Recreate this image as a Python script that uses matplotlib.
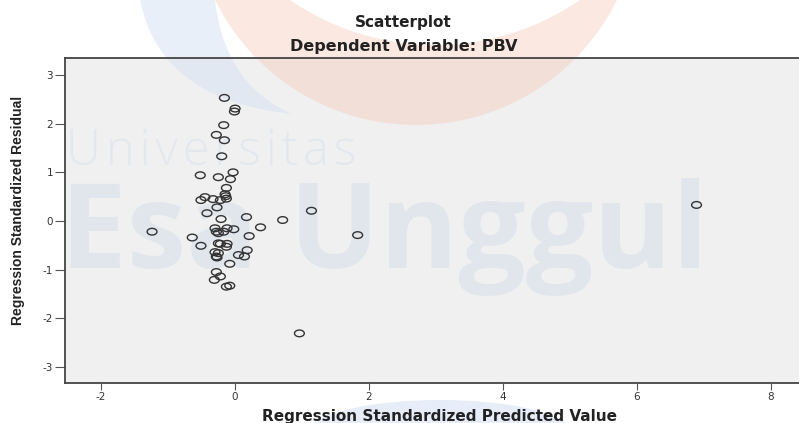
import matplotlib
matplotlib.use("Agg")
import matplotlib.pyplot as plt
from matplotlib import font_manager
from matplotlib.path import Path
from matplotlib.patches import Rectangle, Circle, Ellipse, PathPatch

plt.rcParams["axes.unicode_minus"] = False

# Datos
pred = [-0.17, -0.28, -0.16, -0.20, -0.52, -0.25, -0.03, -0.07, -0.13, -0.15,
        -0.14, -0.13, -0.45, -0.51, -0.33, -0.22, -0.27, -0.42, -0.21, 0.17,
        0.71, -1.24, -0.64, -0.51, -0.30, -0.12, -0.02, -0.25, -0.28, -0.17,
        0.38, 0.21, -0.25, -0.22, -0.12, -0.13, 0.18, 0.05, 0.14, -0.30,
        -0.25, -0.28, -0.27, -0.08, -0.28, -0.22, -0.31, -0.08, -0.13, -0.16,
        0.00, -0.01, 0.96, 1.14, 1.83, 6.89]
resid = [1.97, 1.77, 1.66, 1.33, 0.94, 0.90, 1.00, 0.86, 0.68, 0.55,
         0.51, 0.46, 0.49, 0.43, 0.45, 0.43, 0.28, 0.16, 0.04, 0.08,
         0.02, -0.22, -0.34, -0.51, -0.15, -0.15, -0.17, -0.25, -0.22, -0.22,
         -0.13, -0.31, -0.46, -0.47, -0.47, -0.53, -0.60, -0.70, -0.73, -0.64,
         -0.66, -0.73, -0.75, -0.88, -1.05, -1.14, -1.21, -1.33, -1.35, 2.53,
         2.31, 2.25, -2.31, 0.21, -0.29, 0.33]

x_ticks = [-2, 0, 2, 4, 6, 8]
y_ticks = [-3, -2, -1, 0, 1, 2, 3]

W, H = 799, 423
caja = (65, 58, 799, 383)   # izq, arriba, der, abajo (pixeles)

# fuente angosta para el titulo del eje y, si existe
fuente_y, size_y = "DejaVu Sans", 8.6
for nombre, tam in [("Liberation Sans Narrow", 11), ("Liberation Sans", 10)]:
    try:
        font_manager.findfont(font_manager.FontProperties(family=nombre),
                              fallback_to_default=False)
        fuente_y, size_y = nombre, tam
        break
    except Exception:
        pass

fig = plt.figure(figsize=(W / 100, H / 100), dpi=100)

# Fondo + marca de agua
bg = fig.add_axes([0, 0, 1, 1], zorder=0)
bg.set_xlim(0, W)
bg.set_ylim(H, 0)
bg.axis("off")
bg.add_patch(Rectangle((caja[0], caja[1]), caja[2] - caja[0], caja[3] - caja[1],
                       facecolor="#f0f0f0", edgecolor="none"))
swoosh = Path([(140, 0), (160, 100), (292, 114), (225, 85), (215, 0), (140, 0)],
              [Path.MOVETO, Path.CURVE3, Path.CURVE3, Path.CURVE3, Path.CURVE3, Path.CLOSEPOLY])
bg.add_patch(PathPatch(swoosh, facecolor="#d5e1f5", edgecolor="none", alpha=0.5))
bg.add_patch(Circle((416, -99), 224, facecolor="#f5c9b8", edgecolor="none", alpha=0.42))
bg.add_patch(Circle((435, -211), 256, facecolor="white", edgecolor="none"))
bg.add_patch(Ellipse((440, 432), 260, 64, facecolor="#e6edf9", edgecolor="none"))
bg.text(66, 165, "\u200a".join("Universitas"), fontsize=35,
        family=["Open Sans", "DejaVu Sans"], fontweight="light",
        color="#c9d6ea", alpha=0.32, va="baseline", ha="left")
bg.text(60, 268, "Esa Unggul", fontsize=86, family=["Open Sans", "DejaVu Sans"],
        fontweight="bold", color="#c9d6ea", alpha=0.36, va="baseline", ha="left")

# Grafico
ax = fig.add_axes([caja[0] / W, 1 - caja[3] / H, (caja[2] - caja[0]) / W,
                   (caja[3] - caja[1]) / H], zorder=1)
ax.set_facecolor("none")

circ = Path.unit_circle()
ovalo = Path(circ.vertices * [1.0, 0.68], circ.codes)
ax.scatter(pred, resid, s=50, marker=ovalo, facecolors="none",
           edgecolors="#333333", linewidths=1.0, zorder=3)

ax.set_xlim(-2.54, 8.42)
ax.set_ylim(-3.33, 3.35)
ax.set_xticks(x_ticks)
ax.set_yticks(y_ticks)
ax.spines["right"].set_visible(False)
for s in ["left", "bottom", "top"]:
    ax.spines[s].set_color("#444444")
    ax.spines[s].set_linewidth(1.3)
ax.tick_params(axis="y", length=7, width=0.8, color="#555555", pad=1.5,
               labelsize=7.5, labelcolor="#333333")
ax.tick_params(axis="x", length=5, width=0.8, color="#555555", pad=1.5,
               labelsize=7.5, labelcolor="#333333")

fig.text(403 / W, 1 - 22 / H, "Scatterplot", ha="center", va="center",
         fontsize=11, fontweight="bold", color="#222222")
fig.text(404 / W, 1 - 47 / H, "Dependent Variable: PBV", ha="center", va="center",
         fontsize=11.5, fontweight="bold", color="#222222")
fig.text(439 / W, 1 - 416 / H, "Regression Standardized Predicted Value",
         ha="center", va="center", fontsize=11, fontweight="bold", color="#222222")
fig.text(18 / W, 1 - 210 / H, "Regression Standardized Residual", rotation=90,
         ha="center", va="center", fontsize=size_y, fontweight="bold", color="#222222",
         family=[fuente_y, "DejaVu Sans"])

fig.savefig("out.png", dpi=100)
